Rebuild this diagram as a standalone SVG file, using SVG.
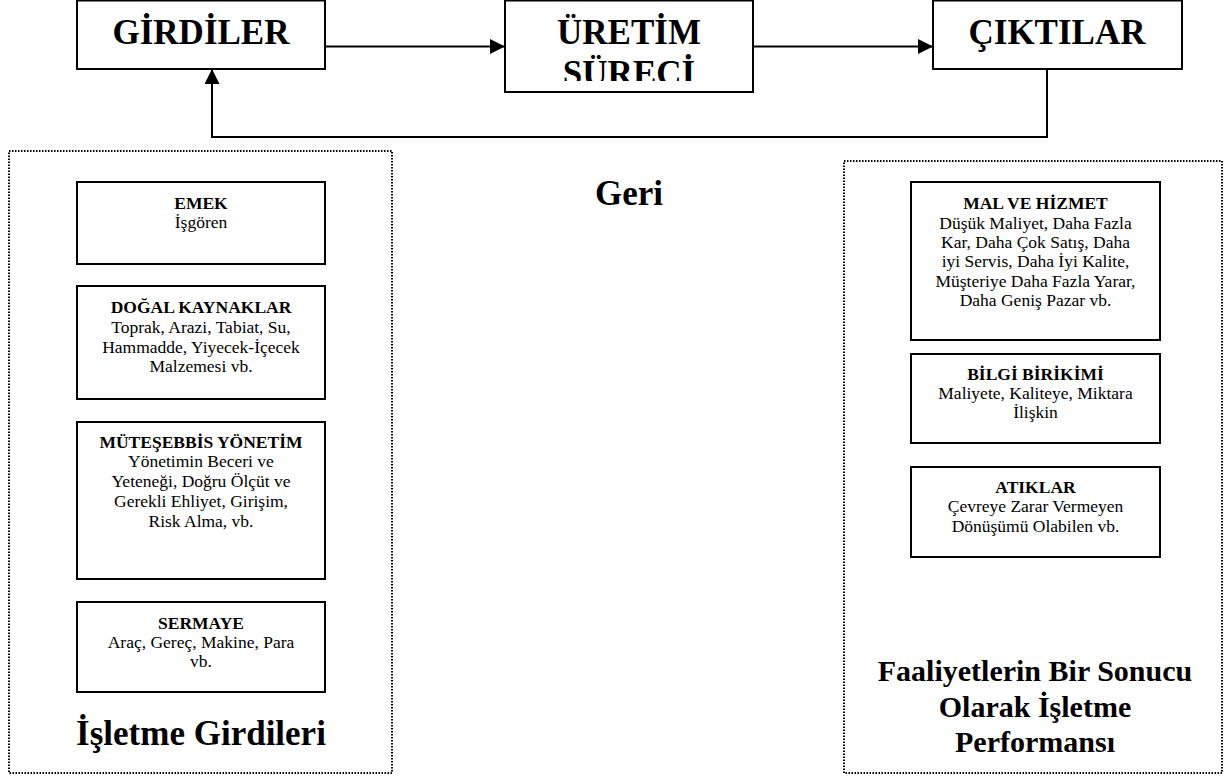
<svg xmlns="http://www.w3.org/2000/svg" width="1228" height="784" viewBox="0 0 1228 784">
<style>
.box{fill:#fff;stroke:#000;stroke-width:2}
.dot{fill:none;stroke:#000;stroke-width:2;stroke-dasharray:1.5 1.5}
.big{font-family:"Liberation Serif","Times New Roman",serif;font-weight:bold;font-size:35px;text-anchor:middle;fill:#000}
.t{font-family:"Liberation Serif","Times New Roman",serif;font-size:17.5px;text-anchor:middle;fill:#000}
.tb{font-weight:bold}
.perf{font-family:"Liberation Serif","Times New Roman",serif;font-weight:bold;font-size:30px;text-anchor:middle;fill:#000}
.con{fill:none;stroke:#000;stroke-width:2}
</style>
<defs>
<marker id="ah" markerUnits="userSpaceOnUse" markerWidth="16" markerHeight="16" refX="15" refY="7.5" orient="auto">
<path d="M0,0 L15,7.5 L0,15 Z" fill="#000"/>
</marker>
<clipPath id="clipU"><rect x="506" y="0" width="246" height="81"/></clipPath>
</defs>
<rect width="1228" height="784" fill="#fff"/>

<g id="panel-left">
<rect class="dot" x="9" y="151" width="383" height="622"/>
<text class="big" x="201" y="745">İşletme Girdileri</text>
</g>
<g id="panel-right">
<rect class="dot" x="844" y="161" width="378" height="612"/>
<text class="perf" x="1035" y="681">Faaliyetlerin Bir Sonucu</text>
<text class="perf" x="1035" y="717">Olarak İşletme</text>
<text class="perf" x="1035" y="752">Performansı</text>
</g>

<g id="connectors">
<line class="con" x1="326" y1="46.5" x2="505" y2="46.5" marker-end="url(#ah)"/>
<line class="con" x1="753" y1="46.5" x2="933" y2="46.5" marker-end="url(#ah)"/>
<polyline class="con" points="1047,69 1047,137 212,137 212,69" marker-end="url(#ah)"/>
</g>

<g id="node-girdiler">
<rect class="box" x="77" y="0.5" width="248" height="68.5"/>
<text class="big" x="201" y="44">GİRDİLER</text>
</g>
<g id="node-uretim">
<rect class="box" x="505" y="0.5" width="248" height="91.5"/>
<g clip-path="url(#clipU)">
<text class="big" x="629" y="44">ÜRETİM</text>
<text class="big" x="629" y="85">SÜRECİ</text>
</g>
</g>
<g id="node-ciktilar">
<rect class="box" x="933" y="0.5" width="249" height="68.5"/>
<text class="big" x="1057" y="44">ÇIKTILAR</text>
</g>

<g id="label-geri">
<text class="big" x="629" y="205">Geri</text>
</g>

<g id="node-emek">
<rect class="box" x="77" y="182" width="248" height="82"/>
<text class="t tb" x="201" y="209">EMEK</text>
<text class="t" x="201" y="228">İşgören</text>
</g>
<g id="node-dogal">
<rect class="box" x="77" y="286" width="248" height="113"/>
<text class="t tb" x="201" y="313">DOĞAL KAYNAKLAR</text>
<text class="t" x="201" y="333">Toprak, Arazi, Tabiat, Su,</text>
<text class="t" x="201" y="353">Hammadde, Yiyecek-İçecek</text>
<text class="t" x="201" y="372">Malzemesi vb.</text>
</g>
<g id="node-muteşebbis">
<rect class="box" x="77" y="422" width="248" height="157"/>
<text class="t tb" x="201" y="448">MÜTEŞEBBİS YÖNETİM</text>
<text class="t" x="201" y="467">Yönetimin Beceri ve</text>
<text class="t" x="201" y="487">Yeteneği, Doğru Ölçüt ve</text>
<text class="t" x="201" y="507">Gerekli Ehliyet, Girişim,</text>
<text class="t" x="201" y="527">Risk Alma, vb.</text>
</g>
<g id="node-sermaye">
<rect class="box" x="77" y="602" width="248" height="90"/>
<text class="t tb" x="201" y="629">SERMAYE</text>
<text class="t" x="201" y="648">Araç, Gereç, Makine, Para</text>
<text class="t" x="201" y="667">vb.</text>
</g>

<g id="node-mal">
<rect class="box" x="911" y="182" width="249" height="158"/>
<text class="t tb" x="1035.5" y="209">MAL VE HİZMET</text>
<text class="t" x="1035.5" y="229">Düşük Maliyet, Daha Fazla</text>
<text class="t" x="1035.5" y="248">Kar, Daha Çok Satış, Daha</text>
<text class="t" x="1035.5" y="267">iyi Servis, Daha İyi Kalite,</text>
<text class="t" x="1035.5" y="287">Müşteriye Daha Fazla Yarar,</text>
<text class="t" x="1035.5" y="306">Daha Geniş Pazar vb.</text>
</g>
<g id="node-bilgi">
<rect class="box" x="911" y="354" width="249" height="89"/>
<text class="t tb" x="1035.5" y="380">BİLGİ BİRİKİMİ</text>
<text class="t" x="1035.5" y="399">Maliyete, Kaliteye, Miktara</text>
<text class="t" x="1035.5" y="418">İlişkin</text>
</g>
<g id="node-atiklar">
<rect class="box" x="911" y="467" width="249" height="90"/>
<text class="t tb" x="1035.5" y="493">ATIKLAR</text>
<text class="t" x="1035.5" y="512">Çevreye Zarar Vermeyen</text>
<text class="t" x="1035.5" y="532">Dönüşümü Olabilen vb.</text>
</g>
</svg>
